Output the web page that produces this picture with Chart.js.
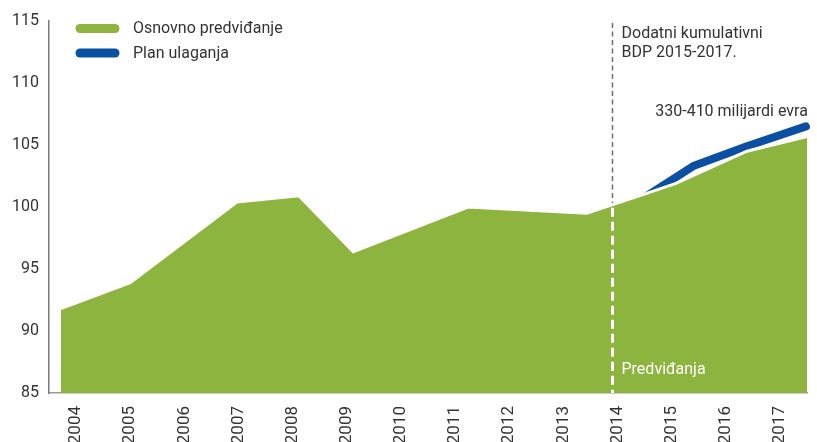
<!DOCTYPE html>
<html>
<head>
<meta charset="utf-8">
<script src="https://cdn.jsdelivr.net/npm/chart.js@4/dist/chart.umd.min.js"></script>
<style>
    html, body { margin: 0; padding: 0; background: #fff; }
    #chart { display: block; }
</style>
</head>
<body>
<canvas id="chart" width="817" height="442"></canvas>
<script>
// years shown on the x axis
const years = [2004, 2005, 2006, 2007, 2008, 2009, 2010, 2011, 2012, 2013, 2014, 2015, 2016, 2017];
// baseline forecast (green area), x in years
const baseX = [2003.72, 2005.0, 2006.97, 2008.12, 2009.12, 2011.24, 2013.43, 2014.47, 2015.08, 2016.39, 2017.52];
const baseValues = [91.8, 93.9, 100.4, 100.9, 96.4, 100.0, 99.5, 101.0, 101.9, 104.5, 105.7];
// investment plan (blue line), starts hidden under the green area
const planX = [2014.47, 2015.4, 2016.39, 2017.48];
const planValues = [100.7, 103.3, 104.9, 106.5];
const yTicks = [85, 90, 95, 100, 105, 110, 115];
const forecastStart = 2013.9;

const GREEN = '#8db43e';
const BLUE = '#0b4fa3';
const TEXT = '#333333';

Chart.defaults.font.family = 'Roboto';
Chart.defaults.font.size = 16;
Chart.defaults.color = TEXT;

function valueAt(xs, ys, x) {
    for (let i = 0; i < xs.length - 1; i++) {
        if (x >= xs[i] && x <= xs[i + 1]) {
            const t = (x - xs[i]) / (xs[i + 1] - xs[i]);
            return ys[i] + t * (ys[i + 1] - ys[i]);
        }
    }
    return ys[ys.length - 1];
}

const extras = {
    id: 'extras',
    beforeDatasetsDraw(chart) {
        const { ctx, chartArea, scales } = chart;
        const lx = Math.round(scales.x.getPixelForValue(forecastStart)) + 0.5;
        ctx.save();
        ctx.strokeStyle = '#6f6f6f';
        ctx.lineWidth = 1.5;
        ctx.setLineDash([5, 3.5]);
        ctx.beginPath();
        ctx.moveTo(lx, chartArea.top + 2);
        ctx.lineTo(lx, chartArea.bottom);
        ctx.stroke();
        ctx.restore();
    },
    afterDatasetsDraw(chart) {
        const { ctx, chartArea, scales } = chart;
        const x = scales.x, y = scales.y;
        const lx = Math.round(x.getPixelForValue(forecastStart)) + 0.5;
        const edge = y.getPixelForValue(valueAt(baseX, baseValues, forecastStart)) + 3;

        ctx.save();
        // white dashes inside the area
        ctx.strokeStyle = '#ffffff';
        ctx.lineWidth = 3;
        ctx.setLineDash([9, 5]);
        ctx.beginPath();
        ctx.moveTo(lx, edge);
        ctx.lineTo(lx, chartArea.bottom);
        ctx.stroke();
        ctx.setLineDash([]);

        ctx.font = '16px Roboto';
        ctx.textBaseline = 'middle';
        ctx.textAlign = 'left';
        ctx.fillStyle = '#ffffff';
        ctx.fillText('Predviđanja', lx + 9, chartArea.bottom - 23);

        ctx.fillStyle = TEXT;
        ctx.fillText('Dodatni kumulativni', lx + 9, chartArea.top + 13);
        ctx.fillText('BDP 2015-2017.', lx + 9, chartArea.top + 32);

        const endX = x.getPixelForValue(planX[planX.length - 1]);
        const endY = y.getPixelForValue(planValues[planValues.length - 1]);
        ctx.textAlign = 'right';
        ctx.fillText('330-410 milijardi evra', endX + 2, endY - 14.5);

        // legend
        const items = [['Osnovno predviđanje', GREEN], ['Plan ulaganja', BLUE]];
        ctx.lineCap = 'round';
        ctx.lineWidth = 9;
        ctx.textAlign = 'left';
        items.forEach(function (it, i) {
            const ly = chartArea.top + 7.5 + i * 24.5;
            ctx.strokeStyle = it[1];
            ctx.beginPath();
            ctx.moveTo(chartArea.left + 31, ly);
            ctx.lineTo(chartArea.left + 66, ly);
            ctx.stroke();
            ctx.fillStyle = TEXT;
            ctx.fillText(it[0], chartArea.left + 84, ly + 0.5);
        });
        ctx.restore();
    }
};

new Chart(document.getElementById('chart'), {
    type: 'line',
    data: {
        datasets: [{
            label: 'Osnovno predviđanje',
            data: baseX.map((v, i) => ({ x: v, y: baseValues[i] })),
            backgroundColor: GREEN,
            borderColor: '#ffffff',
            borderWidth: 3,
            fill: 'start',
            pointRadius: 0,
            tension: 0,
            clip: false
        }, {
            label: 'Plan ulaganja',
            data: planX.map((v, i) => ({ x: v, y: planValues[i] })),
            borderColor: BLUE,
            borderWidth: 8,
            borderCapStyle: 'round',
            borderJoinStyle: 'round',
            fill: false,
            pointRadius: 0,
            tension: 0,
            clip: false
        }]
    },
    options: {
        responsive: false,
        devicePixelRatio: 1,
        animation: false,
        layout: { padding: { top: 21, right: 10, bottom: 0, left: 0 } },
        plugins: {
            legend: { display: false },
            tooltip: { enabled: false }
        },
        scales: {
            x: {
                type: 'linear',
                min: 2003.5,
                max: 2017.5,
                grid: { display: false, drawTicks: false },
                border: { display: true, color: '#9a9a9a', width: 1.5 },
                afterBuildTicks(scale) {
                    scale.ticks = years.map(v => ({ value: v }));
                },
                afterFit(scale) {
                    scale.height = 49;
                },
                ticks: {
                    autoSkip: false,
                    minRotation: 90,
                    maxRotation: 90,
                    padding: 13,
                    color: TEXT,
                    font: { size: 17 },
                    callback: v => String(v)
                }
            },
            y: {
                min: 85,
                max: 115,
                grid: { display: false, drawTicks: false },
                border: { display: true, color: '#7a7a7a', width: 1.5 },
                afterBuildTicks(scale) {
                    scale.ticks = yTicks.map(v => ({ value: v }));
                },
                afterFit(scale) {
                    scale.width = 49;
                },
                ticks: {
                    padding: 10,
                    color: TEXT
                }
            }
        }
    },
    plugins: [extras]
});
</script>
</body>
</html>
